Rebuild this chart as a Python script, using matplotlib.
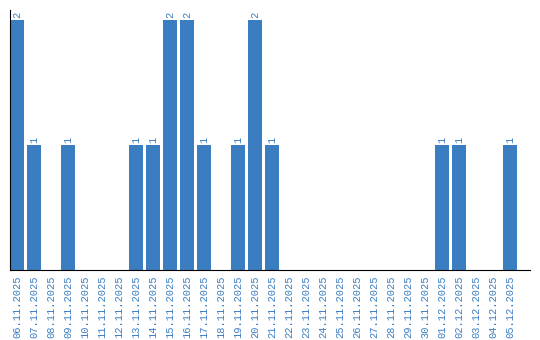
import matplotlib
matplotlib.use("Agg")
import matplotlib.pyplot as plt
import numpy as np

dates = ["06.11.2025", "07.11.2025", "08.11.2025", "09.11.2025", "10.11.2025",
         "11.11.2025", "12.11.2025", "13.11.2025", "14.11.2025", "15.11.2025",
         "16.11.2025", "17.11.2025", "18.11.2025", "19.11.2025", "20.11.2025",
         "21.11.2025", "22.11.2025", "23.11.2025", "24.11.2025", "25.11.2025",
         "26.11.2025", "27.11.2025", "28.11.2025", "29.11.2025", "30.11.2025",
         "01.12.2025", "02.12.2025", "03.12.2025", "04.12.2025", "05.12.2025"]
counts = [2, 1, 0, 1, 0, 0, 0, 1, 1, 2, 2, 1, 0, 1, 2, 1,
          0, 0, 0, 0, 0, 0, 0, 0, 0, 1, 1, 0, 0, 1]

blue = "#3b7dc1"
font = "Liberation Mono"

fig = plt.figure(figsize=(5.4, 3.4), dpi=100)
ax = fig.add_axes([10 / 540, 70 / 340, 520 / 540, 260 / 340])

x = np.arange(len(dates))
ax.bar(x, counts, width=14 / 17, color=blue)

for xi, c in zip(x, counts):
    if c > 0:
        ax.text(xi, c + 0.02, str(c), rotation=90, ha="center", va="bottom",
                color=blue, fontsize=7.5, family=font)

ax.set_xlim(-7 / 17, 513 / 17)
ax.set_ylim(0, 2.08)
ax.set_xticks(x)
ax.set_xticklabels(dates, rotation=90, color=blue, fontsize=7.5, family=font)
ax.tick_params(axis="x", length=0, pad=4)
ax.set_yticks([])
ax.spines["top"].set_visible(False)
ax.spines["right"].set_visible(False)
ax.spines["left"].set_color("black")
ax.spines["bottom"].set_color("black")

fig.savefig("out.png", dpi=100)
